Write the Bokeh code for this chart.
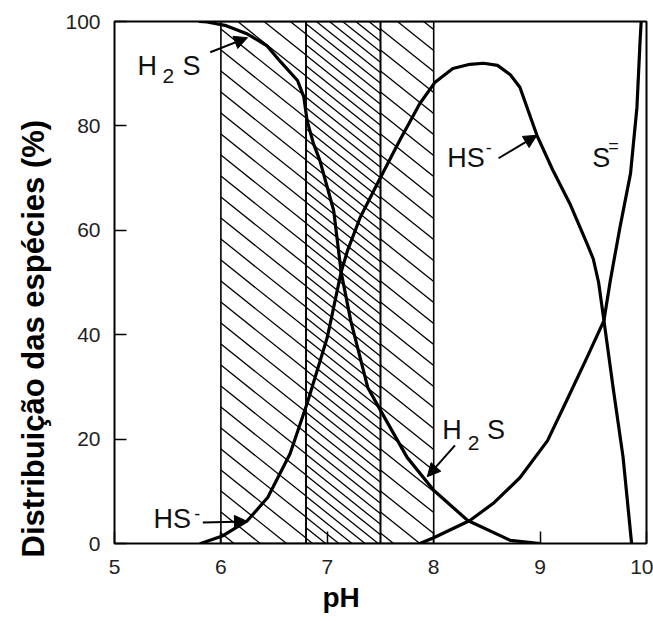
from bokeh.plotting import figure
from bokeh.models import ColumnDataSource, Arrow, NormalHead, Title, FixedTicker, Range1d
from bokeh.core.properties import value
from bokeh.embed import file_html
from bokeh.resources import INLINE

# ---- data ----
ph_h2s = [5.80, 5.87, 6.05, 6.25, 6.43, 6.56, 6.72, 6.78, 6.81, 6.87, 6.93, 7.06, 7.13,
          7.22, 7.38, 7.50, 7.75, 8.00, 8.32, 8.72, 9.00]
pct_h2s = [100, 99.9, 99.2, 97.6, 95.4, 92.3, 88.7, 85.5, 81.0, 76.6, 73.4, 63.8, 52.0,
           42.7, 29.9, 25.5, 16.5, 10.2, 4.4, 0.6, 0.0]

ph_hs = [5.81, 6.02, 6.25, 6.44, 6.65, 6.81, 7.00, 7.13, 7.19, 7.31, 7.50, 7.69, 7.87,
         8.01, 8.18, 8.34, 8.47, 8.60, 8.72, 8.81, 8.97, 9.12, 9.28, 9.44, 9.50, 9.55,
         9.60, 9.69, 9.78, 9.86]
pct_hs = [0.0, 1.5, 4.4, 8.8, 17.2, 26.8, 39.5, 52.0, 56.1, 62.5, 70.1, 77.6, 84.3,
          88.3, 91.0, 91.8, 92.0, 91.6, 89.8, 87.4, 78.2, 71.5, 65.1, 57.5, 54.5, 50.0,
          42.7, 29.3, 16.5, 0.0]

ph_s = [7.87, 8.00, 8.34, 8.56, 8.81, 9.07, 9.25, 9.44, 9.60, 9.66, 9.75, 9.85, 9.91, 9.94, 9.95]
pct_s = [0.0, 1.1, 4.4, 7.7, 12.6, 19.7, 27.4, 35.6, 42.7, 50.4, 60.5, 70.9, 83.5, 96.4, 100.0]

band_left = [6.0, 6.8, 7.5]
band_right = [6.8, 7.5, 8.0]
band_density = ["sparse", "dense", "sparse"]

x_ticks = [5, 6, 7, 8, 9, 10]
y_ticks = [0, 20, 40, 60, 80, 100]

# labels on the curves
lab_text = ["H", "S", "HS", "HS", "S", "H", "S"]
lab_x = [5.216, 5.64, 5.366, 8.127, 9.49, 8.08, 8.50]
lab_y = [91.5, 91.5, 4.6, 73.8, 73.8, 21.8, 21.8]
sub_text = ["2", "2"]
sub_x = [5.45, 8.32]
sub_y = [89.6, 19.3]
sup_text = ["-", "-", "="]
sup_x = [5.75, 8.49, 9.64]
sup_y = [5.8, 75.9, 76.1]

arr_x0 = [5.90, 5.83, 8.61, 8.20]
arr_y0 = [94.1, 4.0, 73.8, 18.8]
arr_x1 = [6.25, 6.25, 8.97, 7.94]
arr_y1 = [96.9, 4.2, 78.2, 12.8]

FONT = "Liberation Sans"

# ---- layout / style constants ----
W, H = 653, 621
BL, BR, BT, BB = 114, 7, 21, 78
X0, X1, Y0, Y1 = 5, 10, 0, 100
PX_X = (W - BL - BR) / (X1 - X0)      # pixels per pH unit
PX_Y = (H - BT - BB) / (Y1 - Y0)      # pixels per percent
HATCH_SLOPE = 0.8                      # pixel slope of the "\" hatch lines
HATCH_STEP = {"sparse": 21.0, "dense": 10.5}   # vertical pixel spacing


def hatch_lines(x_left, x_right, step_px):
    """'\\' hatch lines clipped to the band [x_left, x_right] x [Y0, Y1]."""
    w = (x_right - x_left) * PX_X
    h = (Y1 - Y0) * PX_Y
    xs, ys = [], []
    c = step_px / 2
    while c < h + HATCH_SLOPE * w:
        xa = max(0.0, (c - h) / HATCH_SLOPE)
        xb = min(w, c / HATCH_SLOPE)
        if xb > xa:
            xs.append([x_left + xa / PX_X, x_left + xb / PX_X])
            ys.append([Y0 + (c - HATCH_SLOPE * xa) / PX_Y, Y0 + (c - HATCH_SLOPE * xb) / PX_Y])
        c += step_px
    return xs, ys


p = figure(width=W, height=H, x_range=Range1d(X0, X1), y_range=Range1d(Y0, Y1),
           output_backend="svg", toolbar_location=None,
           min_border_left=BL, min_border_right=BR, min_border_top=BT, min_border_bottom=BB)
p.background_fill_color = "white"
p.border_fill_color = "white"
p.outline_line_color = "black"
p.outline_line_width = 2
p.grid.visible = False

p.xaxis.ticker = FixedTicker(ticks=x_ticks)
p.yaxis.ticker = FixedTicker(ticks=y_ticks)
for ax in (p.xaxis, p.yaxis):
    ax.axis_line_color = None
    ax.major_tick_in = 12
    ax.major_tick_out = 0
    ax.minor_tick_in = 0
    ax.minor_tick_out = 0
    ax.major_tick_line_color = "black"
    ax.major_tick_line_width = 1.5
    ax.major_label_text_font = FONT
    ax.major_label_text_font_size = "21px"
    ax.major_label_text_color = "#222222"
p.xaxis.major_label_standoff = 16
p.yaxis.major_label_standoff = 14

# hatched pH bands
hx, hy = [], []
for l, r, d in zip(band_left, band_right, band_density):
    xs, ys = hatch_lines(l, r, HATCH_STEP[d])
    hx += xs
    hy += ys
p.multi_line(hx, hy, line_color="black", line_width=1.3)
p.quad(left=band_left, right=band_right, bottom=Y0, top=Y1,
       fill_color=None, line_color="black", line_width=1.6)

for xs, ys in ((ph_h2s, pct_h2s), (ph_hs, pct_hs), (ph_s, pct_s)):
    p.line(xs, ys, line_color="black", line_width=3.2, line_join="round", line_cap="round")

p.text(x=lab_x, y=lab_y, text=lab_text, text_font=value(FONT), text_font_size="27px",
       text_align="left", text_baseline="alphabetic", text_color="#111111")
p.text(x=sub_x, y=sub_y, text=sub_text, text_font=value(FONT), text_font_size="21px",
       text_align="left", text_baseline="alphabetic", text_color="#111111")
p.text(x=sup_x, y=sup_y, text=sup_text, text_font=value(FONT), text_font_size="18px",
       text_align="left", text_baseline="middle", text_color="#111111")

arr_src = ColumnDataSource(dict(x0=arr_x0, y0=arr_y0, x1=arr_x1, y1=arr_y1))
p.add_layout(Arrow(x_start="x0", y_start="y0", x_end="x1", y_end="y1", source=arr_src,
                   line_width=2, line_color="black",
                   end=NormalHead(size=13, fill_color="black", line_color="black")))

p.add_layout(Title(text="Distribuição das espécies (%)", align="left", offset=-14,
                   text_font=FONT, text_font_size="31px", text_font_style="bold",
                   text_color="black", standoff=24), "left")
p.add_layout(Title(text="pH", align="left", offset=208,
                   text_font=FONT, text_font_size="28px", text_font_style="bold",
                   text_color="black", standoff=6), "below")

open("out.html", "w").write(file_html(p, INLINE))
